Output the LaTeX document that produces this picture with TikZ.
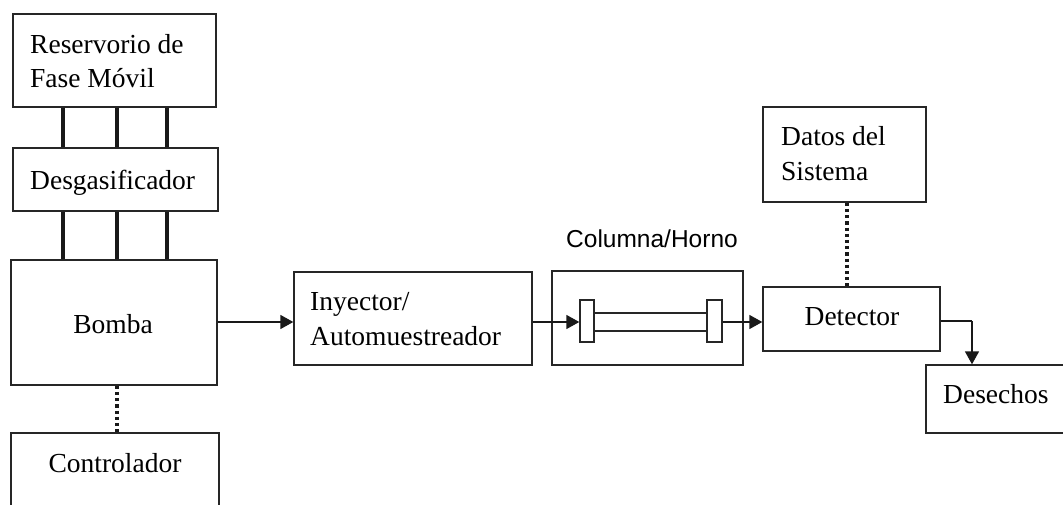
\documentclass[tikz,border=0pt]{standalone}
\usepackage{fontspec}
\setmainfont{Liberation Serif}
\newfontfamily\labelsans{Liberation Sans}
\usetikzlibrary{arrows.meta,calc}

\tikzset{
  box/.style={draw=black!85, line width=1.4pt, inner sep=0pt, fill=white},
  txt/.style={anchor=base west, inner sep=0pt, font=\fontsize{27.5}{34}\selectfont},
  ctxt/.style={anchor=base, inner sep=0pt, font=\fontsize{27.5}{34}\selectfont},
  pipe/.style={line width=3.2pt, black!90},
  flow/.style={line width=1.6pt, black!90, -{Triangle[length=13pt,width=14pt]}},
  plain/.style={line width=1.6pt, black!90},
  signal/.style={line width=3.4pt, black!90, dash pattern=on 3.2pt off 3pt}
}

\begin{document}
\begin{tikzpicture}[x=1pt, y=-1pt]
\useasboundingbox[fill=white] (0,0) rectangle (1063,504);

% left column: reservoir, degasser, pump, controller
\node[box, minimum width=203pt, minimum height=93pt]  (res) at (114.5,60.5) {};
\node[box, minimum width=205pt, minimum height=63pt]  (deg) at (115.5,179.5) {};
\node[box, minimum width=206pt, minimum height=125pt] (pump) at (114,322.5) {};
\node[box, minimum width=208pt, minimum height=107pt] (ctl) at (115,486.5) {};

\node[txt] (t-res1) at (30,53) {Reservorio de};
\node[txt] (t-res2) at (30,87) {Fase Móvil};
\node[txt] (t-deg)  at (30,189) {Desgasificador};
\node[ctxt] (t-pump) at (113,333) {Bomba};
\node[ctxt] (t-ctl)  at (115,472) {Controlador};

% solvent lines between reservoir, degasser and pump
\foreach \x in {63,117,167}{
  \draw[pipe] (res.south -| \x,0) -- (deg.north -| \x,0);
  \draw[pipe] (deg.south -| \x,0) -- (pump.north -| \x,0);
}
\draw[signal] (pump.south -| 117,0) -- (ctl.north -| 117,0);

% injector
\node[box, minimum width=238pt, minimum height=93pt] (inj) at (413,318.5) {};
\node[txt] (t-inj1) at (310,310) {Inyector/};
\node[txt] (t-inj2) at (310,345) {Automuestreador};

% column inside the oven
\node[box, minimum width=191pt, minimum height=94pt] (oven) at (647.5,318) {};
\node[anchor=base, inner sep=0pt, font=\labelsans\fontsize{24.5}{28}\selectfont] (t-oven) at (652,247) {Columna/Horno};
\node[box, minimum width=113pt, minimum height=18pt] (tube) at (650.5,322) {};
\node[box, minimum width=14pt, minimum height=42pt] (lcap) at (587,321) {};
\node[box, minimum width=15pt, minimum height=42pt] (rcap) at (714.5,321) {};

% detector, data system and waste
\node[box, minimum width=177pt, minimum height=64pt] (det) at (851.5,319) {};
\node[ctxt] (t-det) at (852,325) {Detector};
\node[box, minimum width=163pt, minimum height=95pt] (data) at (844.5,154.5) {};
\node[txt] (t-data1) at (781,145) {Datos del};
\node[txt] (t-data2) at (781,180) {Sistema};
\node[box, minimum width=154pt, minimum height=68pt] (waste) at (1003,399) {};
\node[txt] (t-waste) at (943,403) {Desechos};

\draw[signal] (data.south -| 847,0) -- (det.north -| 847,0);

% flow path
\draw[flow] (pump.east |- 0,322) -- (inj.west |- 0,322);
\draw[flow] (inj.east |- 0,322) -- (lcap.west |- 0,322);
\draw[flow] (rcap.east |- 0,322) -- (det.west |- 0,322);
\coordinate (drop) at (waste.north -| 972,0);
\draw[plain] (det.east |- 0,321) -- (972,321);
\draw[flow] (972,321) -- (drop);
\end{tikzpicture}
\end{document}
